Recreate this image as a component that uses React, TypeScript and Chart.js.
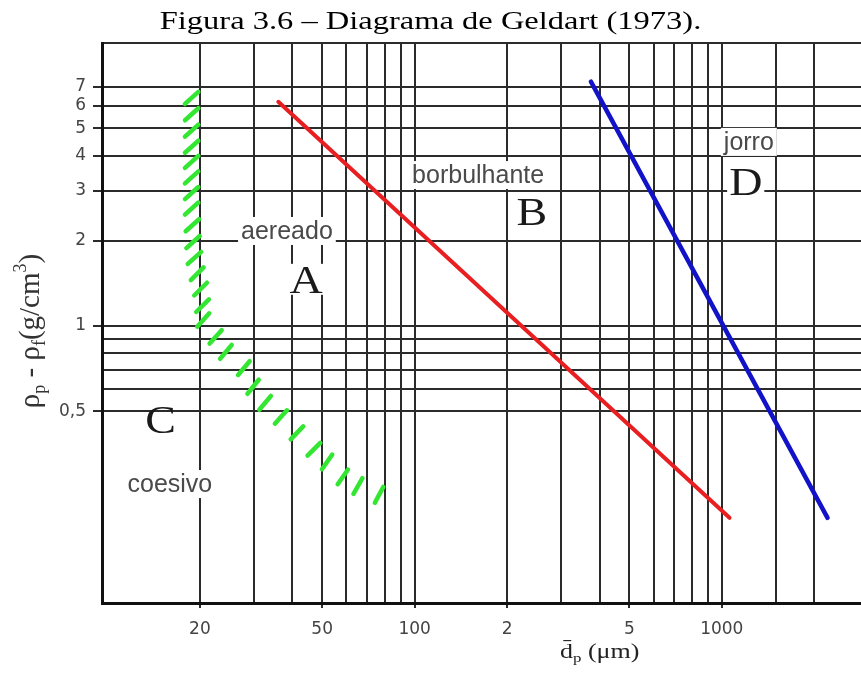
import React, { useEffect, useRef } from 'react';
import { Chart, registerables } from 'chart.js';

Chart.register(...registerables);

// ---- Axis ticks / grid ----
const xTickValues = [20, 30, 40, 50, 60, 70, 80, 90, 100, 200, 300, 400, 500, 600, 700, 800, 900, 1000, 1500, 2000];
const xTickLabels = ['20', '', '', '50', '', '', '', '', '100', '2', '', '', '5', '', '', '', '', '1000', '', ''];
const yTickValues = [0.5, 0.6, 0.7, 0.8, 0.9, 1, 2, 3, 4, 5, 6, 7, 10];
const yTickLabels = ['0,5', '', '', '', '', '1', '2', '3', '4', '5', '6', '7', ''];

// ---- Boundary lines ----
const redX = [36, 1060];
const redY = [6.2, 0.21];
const blueX = [375, 2210];
const blueY = [7.3, 0.21];

// ---- Hatched C/A boundary (hatch marks) ----
const hatchX = [18.8, 18.8, 18.8, 18.8, 18.8, 18.8, 18.8, 18.8, 18.9, 19.0, 19.2, 19.6, 20.1, 20.4,
  20.5, 22.5, 24.3, 27.8, 29.8, 32.6, 36.7, 41.4, 47.0, 51.9, 58.4, 65.4, 76.6];
const hatchY = [6.4, 5.6, 4.9, 4.3, 3.8, 3.35, 2.95, 2.6, 2.27, 1.98, 1.74, 1.53, 1.35, 1.18,
  1.05, 0.915, 0.81, 0.71, 0.61, 0.535, 0.477, 0.419, 0.367, 0.331, 0.293, 0.272, 0.253];
const hatchAngle = [-42, -42, -42, -42, -42, -42, -42, -42, -42, -42, -42, -45, -45, -45,
  -48, -48, -50, -50, -51, -50, -48, -46, -45, -55, -55, -60, -62];

// ---- Region annotations (center x, baseline y in data units) ----
const regionText = ['aereado', 'borbulhante', 'jorro', 'coesivo'];
const regionX = [38.4, 161, 1225, 15.97];
const regionY = [2.03, 3.2, 4.19, 0.259];
const letterText = ['A', 'B', 'C', 'D'];
const letterX = [44.3, 241, 14.9, 1197];
const letterY = [1.31, 2.27, 0.419, 2.9];

const titleText = 'Figura 3.6 – Diagrama de Geldart (1973).';

export default function App() {
  const ref = useRef<HTMLCanvasElement>(null);

  useEffect(() => {
    const canvas = ref.current;
    if (!canvas) return;

    const capPlugin = {
      id: 'roundCaps',
      beforeDatasetsDraw(chart: any) {
        chart.ctx.save();
        chart.ctx.lineCap = 'round';
      },
      afterDatasetsDraw(chart: any) {
        chart.ctx.restore();
      },
    };

    const textPlugin = {
      id: 'geldartText',
      afterDraw(chart: any) {
        const ctx = chart.ctx as CanvasRenderingContext2D;
        const xs = chart.scales.x;
        const ys = chart.scales.y;
        const W = chart.width;

        // Title
        ctx.save();
        ctx.fillStyle = '#000';
        ctx.font = '25px "Liberation Serif", serif';
        ctx.textAlign = 'center';
        ctx.textBaseline = 'alphabetic';
        ctx.translate(W / 2, 29);
        ctx.scale(1.3, 1);
        ctx.fillText(titleText, 0, 0);
        ctx.restore();

        // Region labels with white background
        ctx.save();
        ctx.font = '25px "Liberation Sans", Arial, sans-serif';
        ctx.textAlign = 'center';
        ctx.textBaseline = 'alphabetic';
        regionText.forEach((t, i) => {
          const px = xs.getPixelForValue(regionX[i]);
          const py = ys.getPixelForValue(regionY[i]);
          const w = ctx.measureText(t).width;
          ctx.fillStyle = '#fff';
          ctx.fillRect(px - w / 2 - 3, py - 22, w + 6, 28);
          ctx.fillStyle = '#4a4a4a';
          ctx.fillText(t, px, py);
        });
        ctx.restore();

        // Big letters
        ctx.save();
        ctx.font = '40px "Liberation Serif", serif';
        ctx.textAlign = 'center';
        ctx.textBaseline = 'alphabetic';
        letterText.forEach((t, i) => {
          const px = xs.getPixelForValue(letterX[i]);
          const py = ys.getPixelForValue(letterY[i]);
          const w = ctx.measureText(t).width * 1.15;
          if (t !== 'C') {
            ctx.fillStyle = '#fff';
            ctx.fillRect(px - w / 2 - 2, py - 29, w + 4, 31);
          }
          ctx.save();
          ctx.translate(px, py);
          ctx.scale(1.15, 1);
          ctx.fillStyle = '#1a1a1a';
          ctx.fillText(t, 0, 0);
          ctx.restore();
        });
        ctx.restore();

        // X axis title: d̄p (µm)
        ctx.save();
        ctx.fillStyle = '#222';
        ctx.textBaseline = 'alphabetic';
        ctx.textAlign = 'left';
        ctx.translate(560, 658);
        ctx.scale(1.3, 1);
        let cx = 0;
        ctx.font = '20px "Liberation Serif", serif';
        ctx.fillText('d\u0304', cx, 0);
        cx += ctx.measureText('d').width;
        ctx.font = '13px "Liberation Serif", serif';
        ctx.fillText('p', cx, 4);
        cx += ctx.measureText('p').width;
        ctx.font = '20px "Liberation Serif", serif';
        ctx.fillText(' (\u03bcm)', cx, 0);
        ctx.restore();

        // Y axis title: ρp - ρf(g/cm³)
        const pieces = [
          { t: '\u03c1', s: 29, dy: 0 },
          { t: 'p', s: 18, dy: 6 },
          { t: ' - ', s: 29, dy: 0 },
          { t: '\u03c1', s: 29, dy: 0 },
          { t: 'f', s: 18, dy: 6 },
          { t: '(g/cm', s: 29, dy: 0 },
          { t: '3', s: 18, dy: -13 },
          { t: ')', s: 29, dy: 0 },
        ];
        ctx.save();
        ctx.fillStyle = '#333';
        ctx.textBaseline = 'alphabetic';
        ctx.textAlign = 'left';
        let total = 0;
        pieces.forEach((p) => {
          ctx.font = `${p.s}px "Liberation Serif", serif`;
          total += ctx.measureText(p.t).width;
        });
        ctx.translate(39, 331);
        ctx.rotate(-Math.PI / 2);
        let fx = -total / 2;
        pieces.forEach((p) => {
          ctx.font = `${p.s}px "Liberation Serif", serif`;
          ctx.fillText(p.t, fx, p.dy);
          fx += ctx.measureText(p.t).width;
        });
        ctx.restore();
      },
    };

    const chart = new Chart(canvas, {
      type: 'scatter',
      data: {
        datasets: [
          {
            label: 'A/B',
            data: redX.map((x, i) => ({ x, y: redY[i] })),
            showLine: true,
            borderColor: 'rgb(232,30,32)',
            borderWidth: 4,
            borderCapStyle: 'round',
            pointRadius: 0,
          },
          {
            label: 'B/D',
            data: blueX.map((x, i) => ({ x, y: blueY[i] })),
            showLine: true,
            borderColor: 'rgb(18,18,200)',
            borderWidth: 4.5,
            borderCapStyle: 'round',
            pointRadius: 0,
          },
          {
            label: 'C/A',
            data: hatchX.map((x, i) => ({ x, y: hatchY[i] })),
            showLine: false,
            pointStyle: 'line',
            pointRadius: 9,
            pointRotation: hatchAngle,
            pointBorderColor: 'rgb(50,230,50)',
            pointBackgroundColor: 'rgb(50,230,50)',
            pointBorderWidth: 4.5,
          },
        ],
      } as any,
      options: {
        responsive: false,
        animation: false,
        events: [],
        layout: { autoPadding: false, padding: { top: 43, left: 0, right: 0, bottom: 0 } },
        plugins: {
          legend: { display: false },
          tooltip: { enabled: false },
          title: { display: false },
        },
        scales: {
          x: {
            type: 'logarithmic',
            min: 9.6,
            max: 2840,
            afterBuildTicks: (s: any) => {
              s.ticks = xTickValues.map((v) => ({ value: v }));
            },
            afterFit: (s: any) => {
              s.height = 70;
              s.paddingLeft = 0;
              s.paddingRight = 0;
            },
            ticks: {
              autoSkip: false,
              maxRotation: 0,
              minRotation: 0,
              padding: 11,
              color: '#444',
              font: { family: '"DejaVu Sans", sans-serif', size: 17 },
              callback: (_v: any, i: number) => xTickLabels[i],
            },
            grid: {
              color: '#2b2b2b',
              lineWidth: 2,
              tickLength: 5,
              tickColor: (c: any) => (xTickLabels[c.index] ? '#2b2b2b' : 'rgba(0,0,0,0)'),
            },
            border: { display: true, color: '#111', width: 3 },
          },
          y: {
            type: 'logarithmic',
            min: 0.105,
            max: 10,
            afterBuildTicks: (s: any) => {
              s.ticks = yTickValues.map((v) => ({ value: v }));
            },
            afterFit: (s: any) => {
              s.width = 102;
              s.paddingTop = 0;
              s.paddingBottom = 0;
            },
            ticks: {
              autoSkip: false,
              padding: 7,
              color: '#444',
              font: { family: '"DejaVu Sans", sans-serif', size: 17 },
              callback: (_v: any, i: number) => yTickLabels[i],
            },
            grid: {
              color: '#2b2b2b',
              lineWidth: 2,
              tickLength: 9,
              tickColor: (c: any) => (yTickLabels[c.index] ? '#2b2b2b' : 'rgba(0,0,0,0)'),
            },
            border: { display: true, color: '#111', width: 3 },
          },
        },
      } as any,
      plugins: [capPlugin, textPlugin],
    });

    return () => chart.destroy();
  }, []);

  return (
    <div style={{ position: 'fixed', left: 0, top: 0, width: 861, height: 673, background: '#fff' }}>
      <canvas ref={ref} width={861} height={673} style={{ display: 'block' }} />
    </div>
  );
}
